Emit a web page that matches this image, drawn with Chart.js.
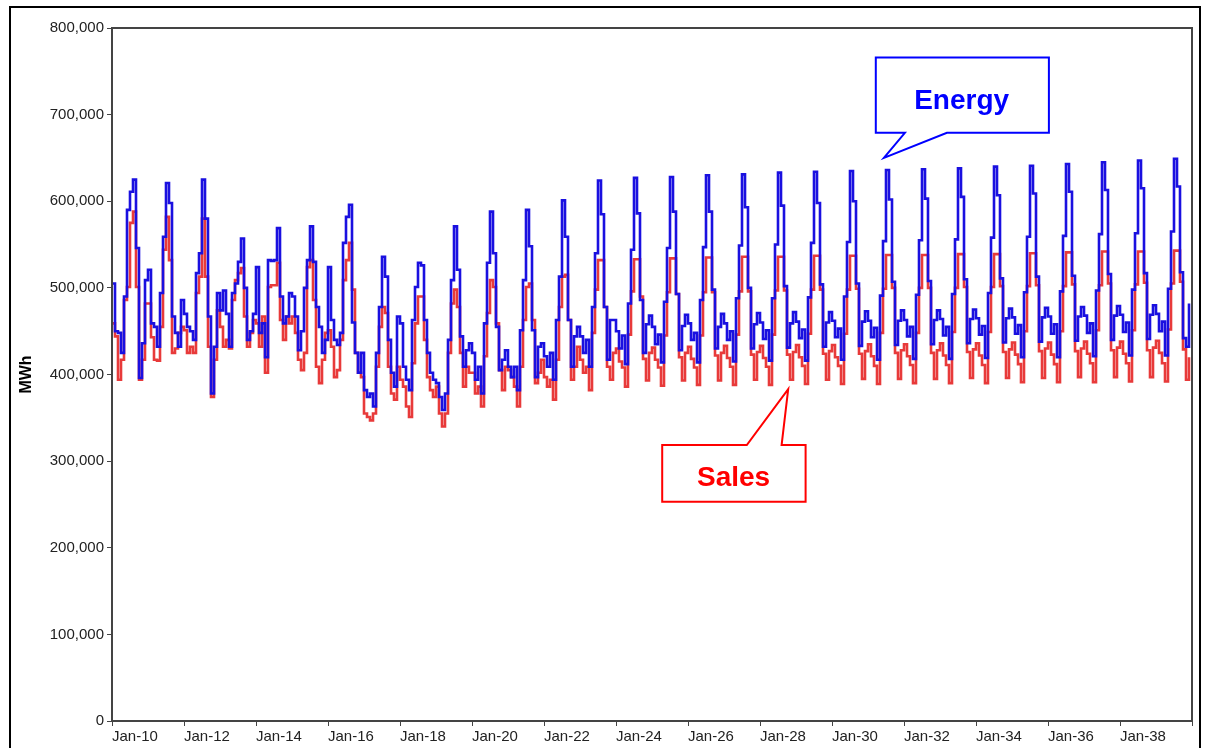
<!DOCTYPE html>
<html>
<head>
<meta charset="utf-8">
<title>Energy and Sales</title>
<script src="https://cdn.jsdelivr.net/npm/chart.js@4.4.1/dist/chart.umd.min.js"></script>
<style>
  html, body { margin: 0; padding: 0; background: #fff; width: 1209px; height: 748px; overflow: hidden; }
  #frame { position: absolute; left: 9px; top: 6px; width: 1188px; height: 770px; border: 2px solid #000; }
  #wrap { position: absolute; left: 0; top: 0; width: 1209px; height: 748px; }
</style>
</head>
<body>
<div id="frame"></div>
<div id="wrap"><canvas id="chart" width="1209" height="748"></canvas></div>
<script>
// Monthly values, Jan 2010 - Dec 2039, one row per year (MWh)
const energy = [
  505000, 450000, 448000, 425000, 490000, 590000, 611000, 625000, 546000, 396000, 436000, 509000,
  521000, 459000, 455000, 432000, 494000, 559000, 621000, 598000, 467000, 448000, 432000, 486000,
  470000, 455000, 450000, 440000, 517000, 540000, 625000, 580000, 467000, 378000, 432000, 494000,
  474000, 497000, 470000, 432000, 494000, 505000, 530000, 557000, 500000, 440000, 450000, 470000,
  524000, 448000, 459000, 420000, 532000, 531000, 532000, 569000, 490000, 459000, 467000, 494000,
  490000, 467000, 428000, 450000, 500000, 532000, 571000, 530000, 478000, 455000, 425000, 440000,
  524000, 463000, 440000, 434000, 448000, 552000, 582000, 596000, 460000, 425000, 402000, 425000,
  382000, 374000, 378000, 363000, 425000, 478000, 536000, 513000, 440000, 402000, 386000, 467000,
  459000, 409000, 394000, 382000, 463000, 501000, 529000, 526000, 463000, 425000, 402000, 394000,
  390000, 374000, 359000, 378000, 440000, 509000, 571000, 521000, 444000, 409000, 428000, 436000,
  425000, 394000, 409000, 378000, 459000, 529000, 588000, 540000, 455000, 405000, 417000, 428000,
  409000, 397000, 409000, 382000, 451000, 509000, 590000, 548000, 451000, 397000, 432000, 436000,
  421000, 409000, 425000, 394000, 463000, 513000, 601000, 559000, 463000, 409000, 444000, 455000,
  444000, 425000, 440000, 409000, 478000, 540000, 624000, 585000, 478000, 417000, 463000, 463000,
  450000, 430000, 445000, 412000, 482000, 544000, 627000, 586000, 486000, 425000, 458000, 468000,
  455000, 435000, 446000, 414000, 484000, 546000, 628000, 588000, 493000, 428000, 456000, 469000,
  459000, 440000, 448000, 414000, 486000, 547000, 630000, 588000, 498000, 430000, 455000, 470000,
  459000, 440000, 450000, 415000, 488000, 549000, 631000, 593000, 500000, 430000, 458000, 471000,
  460000, 441000, 451000, 416000, 488000, 550000, 633000, 595000, 502000, 431000, 459000, 472000,
  461000, 442000, 452000, 416000, 489000, 552000, 634000, 598000, 504000, 432000, 460000, 472000,
  462000, 443000, 453000, 417000, 490000, 553000, 635000, 600000, 505000, 433000, 461000, 473000,
  462000, 443000, 454000, 417000, 491000, 554000, 636000, 602000, 507000, 434000, 462000, 474000,
  463000, 444000, 455000, 418000, 492000, 555000, 637000, 603000, 508000, 435000, 463000, 474000,
  464000, 445000, 455000, 418000, 493000, 556000, 638000, 605000, 510000, 436000, 464000, 475000,
  465000, 446000, 456000, 419000, 494000, 558000, 640000, 607000, 511000, 437000, 465000, 476000,
  466000, 447000, 457000, 420000, 495000, 559000, 641000, 609000, 513000, 438000, 466000, 477000,
  467000, 447000, 458000, 420000, 496000, 560000, 643000, 611000, 514000, 439000, 467000, 478000,
  468000, 448000, 459000, 421000, 497000, 562000, 645000, 613000, 516000, 440000, 468000, 479000,
  469000, 449000, 460000, 422000, 498000, 563000, 647000, 615000, 517000, 441000, 469000, 480000,
  470000, 450000, 461000, 422000, 499000, 565000, 649000, 617000, 518000, 442000, 432000, 482000
];

const sales = [
  459000, 444000, 394000, 417000, 486000, 501000, 575000, 588000, 501000, 394000, 417000, 482000,
  482000, 443000, 417000, 416000, 455000, 544000, 582000, 532000, 425000, 430000, 448000, 455000,
  451000, 425000, 432000, 425000, 494000, 513000, 580000, 513000, 432000, 374000, 417000, 474000,
  455000, 432000, 440000, 430000, 486000, 509000, 517000, 523000, 467000, 432000, 448000, 463000,
  459000, 432000, 467000, 402000, 501000, 503000, 503000, 529000, 463000, 440000, 467000, 459000,
  467000, 448000, 417000, 405000, 425000, 524000, 532000, 486000, 409000, 390000, 417000, 448000,
  451000, 432000, 397000, 405000, 440000, 509000, 532000, 552000, 498000, 425000, 402000, 397000,
  355000, 351000, 347000, 355000, 409000, 455000, 478000, 471000, 409000, 378000, 371000, 409000,
  394000, 386000, 363000, 351000, 413000, 459000, 490000, 490000, 440000, 397000, 382000, 374000,
  386000, 355000, 340000, 355000, 425000, 482000, 498000, 478000, 425000, 386000, 409000, 402000,
  402000, 378000, 386000, 363000, 421000, 471000, 509000, 501000, 459000, 405000, 382000, 409000,
  405000, 397000, 386000, 363000, 409000, 463000, 501000, 505000, 463000, 390000, 402000, 417000,
  397000, 386000, 394000, 371000, 417000, 478000, 513000, 515000, 463000, 394000, 409000, 432000,
  417000, 402000, 409000, 382000, 448000, 498000, 532000, 532000, 478000, 409000, 394000, 425000,
  430000, 415000, 408000, 386000, 446000, 496000, 533000, 533000, 490000, 418000, 393000, 425000,
  431000, 417000, 408000, 387000, 445000, 495000, 534000, 534000, 493000, 420000, 393000, 425000,
  432000, 418000, 408000, 388000, 445000, 495000, 535000, 535000, 495000, 422000, 393000, 425000,
  433000, 419000, 409000, 388000, 446000, 496000, 536000, 536000, 496000, 423000, 394000, 426000,
  433000, 419000, 409000, 388000, 446000, 497000, 536000, 536000, 497000, 423000, 394000, 426000,
  434000, 420000, 410000, 389000, 447000, 498000, 537000, 537000, 498000, 424000, 394000, 427000,
  434000, 420000, 410000, 389000, 447000, 498000, 537000, 537000, 499000, 424000, 395000, 427000,
  435000, 421000, 410000, 389000, 448000, 499000, 538000, 538000, 500000, 425000, 395000, 428000,
  435000, 421000, 411000, 390000, 448000, 500000, 538000, 538000, 500000, 425000, 395000, 428000,
  436000, 422000, 411000, 390000, 449000, 500000, 539000, 539000, 501000, 426000, 396000, 429000,
  436000, 422000, 411000, 390000, 449000, 501000, 539000, 539000, 502000, 426000, 396000, 429000,
  437000, 423000, 412000, 391000, 450000, 502000, 540000, 540000, 503000, 427000, 396000, 430000,
  437000, 423000, 412000, 391000, 450000, 502000, 541000, 541000, 504000, 427000, 397000, 430000,
  438000, 424000, 413000, 391000, 451000, 503000, 542000, 542000, 505000, 428000, 397000, 431000,
  438000, 424000, 413000, 392000, 451000, 504000, 542000, 542000, 506000, 428000, 397000, 431000,
  439000, 425000, 413000, 392000, 452000, 505000, 543000, 543000, 507000, 429000, 394000, 420000
];

// Axis ticks: every other January, plus the closing edge of the series
const tickMonths = [0, 24, 48, 72, 96, 120, 144, 168, 192, 216, 240, 264, 288, 312, 336, 360];
const tickLabels = ['Jan-10', 'Jan-12', 'Jan-14', 'Jan-16', 'Jan-18', 'Jan-20', 'Jan-22', 'Jan-24',
  'Jan-26', 'Jan-28', 'Jan-30', 'Jan-32', 'Jan-34', 'Jan-36', 'Jan-38', ''];

// Speech-bubble labels, positioned in axis units (month index, MWh)
const callouts = [
  { text: 'Energy', color: '#0000ff', x0: 254.6, x1: 312.3, yTop: 766000, yBottom: 679000,
    tailOnTop: false, tailA: 264.3, tailB: 278.3, tipX: 257.3, tipY: 650000, textX: 283.2, textY: 706000 },
  { text: 'Sales', color: '#ff0000', x0: 183.4, x1: 231.2, yTop: 318600, yBottom: 253200,
    tailOnTop: true, tailA: 211.6, tailB: 223.2, tipX: 225.4, tipY: 383000, textX: 207.2, textY: 271300 }
];

const FONT = "'Liberation Sans', Arial, sans-serif";

const toPoints = arr => arr.map((v, i) => ({ x: i, y: v }));

// Box around the plot area
const plotFrame = {
  id: 'plotFrame',
  afterDatasetsDraw(chart) {
    const { ctx, chartArea: a } = chart;
    ctx.save();
    ctx.strokeStyle = '#444';
    ctx.lineWidth = 2;
    ctx.strokeRect(a.left, a.top, a.right - a.left, a.bottom - a.top);
    ctx.restore();
  }
};

// Draw the Energy / Sales speech bubbles
const bubbles = {
  id: 'bubbles',
  afterDraw(chart) {
    const { ctx } = chart;
    const sx = chart.scales.x, sy = chart.scales.y;
    ctx.save();
    callouts.forEach(c => {
      const l = sx.getPixelForValue(c.x0), r = sx.getPixelForValue(c.x1);
      const t = sy.getPixelForValue(c.yTop), b = sy.getPixelForValue(c.yBottom);
      const a = sx.getPixelForValue(c.tailA), bb = sx.getPixelForValue(c.tailB);
      const tx = sx.getPixelForValue(c.tipX), ty = sy.getPixelForValue(c.tipY);
      ctx.beginPath();
      if (c.tailOnTop) {
        ctx.moveTo(l, t);
        ctx.lineTo(a, t);
        ctx.lineTo(tx, ty);
        ctx.lineTo(bb, t);
        ctx.lineTo(r, t);
        ctx.lineTo(r, b);
        ctx.lineTo(l, b);
      } else {
        ctx.moveTo(l, t);
        ctx.lineTo(r, t);
        ctx.lineTo(r, b);
        ctx.lineTo(bb, b);
        ctx.lineTo(tx, ty);
        ctx.lineTo(a, b);
        ctx.lineTo(l, b);
      }
      ctx.closePath();
      ctx.fillStyle = '#fff';
      ctx.fill();
      ctx.strokeStyle = c.color;
      ctx.lineWidth = 2;
      ctx.stroke();

      ctx.fillStyle = c.color;
      ctx.font = 'bold 28px ' + FONT;
      ctx.textAlign = 'center';
      ctx.textBaseline = 'alphabetic';
      ctx.fillText(c.text, sx.getPixelForValue(c.textX), sy.getPixelForValue(c.textY));
    });
    ctx.restore();
  }
};

new Chart(document.getElementById('chart').getContext('2d'), {
  type: 'line',
  data: {
    datasets: [
      {
        label: 'Energy',
        data: toPoints(energy),
        borderColor: '#1a10e0',
        borderWidth: 2.6,
        stepped: true,
        pointRadius: 0,
        fill: false
      },
      {
        label: 'Sales',
        data: toPoints(sales),
        borderColor: '#e83a3a',
        borderWidth: 2.6,
        stepped: true,
        pointRadius: 0,
        fill: false
      }
    ]
  },
  options: {
    responsive: false,
    animation: false,
    layout: { padding: { left: 0, top: 28, right: 17, bottom: 0 } },
    plugins: {
      legend: { display: false },
      tooltip: { enabled: false }
    },
    scales: {
      x: {
        type: 'linear',
        min: 0,
        max: 360,
        afterBuildTicks: scale => { scale.ticks = tickMonths.map(v => ({ value: v })); },
        afterFit: scale => { scale.height = 27; },
        border: { display: false },
        grid: { drawOnChartArea: false, drawTicks: true, tickLength: 5, color: '#444' },
        ticks: {
          autoSkip: false,
          maxRotation: 0,
          align: 'start',
          padding: 2,
          color: '#222',
          font: { family: FONT, size: 15 },
          callback: (value, i) => tickLabels[i]
        }
      },
      y: {
        min: 0,
        max: 800000,
        afterFit: scale => { scale.width = 112; },
        border: { display: false },
        grid: { drawOnChartArea: false, drawTicks: true, tickLength: 5, color: '#444' },
        ticks: {
          stepSize: 100000,
          padding: 3,
          color: '#222',
          font: { family: FONT, size: 15 },
          callback: v => v.toLocaleString('en-US')
        },
        title: {
          display: true,
          text: 'MWh',
          color: '#000',
          padding: { top: 17, bottom: 0 },
          font: { family: FONT, size: 16, weight: 'bold' }
        }
      }
    }
  },
  plugins: [plotFrame, bubbles]
});
</script>
</body>
</html>
